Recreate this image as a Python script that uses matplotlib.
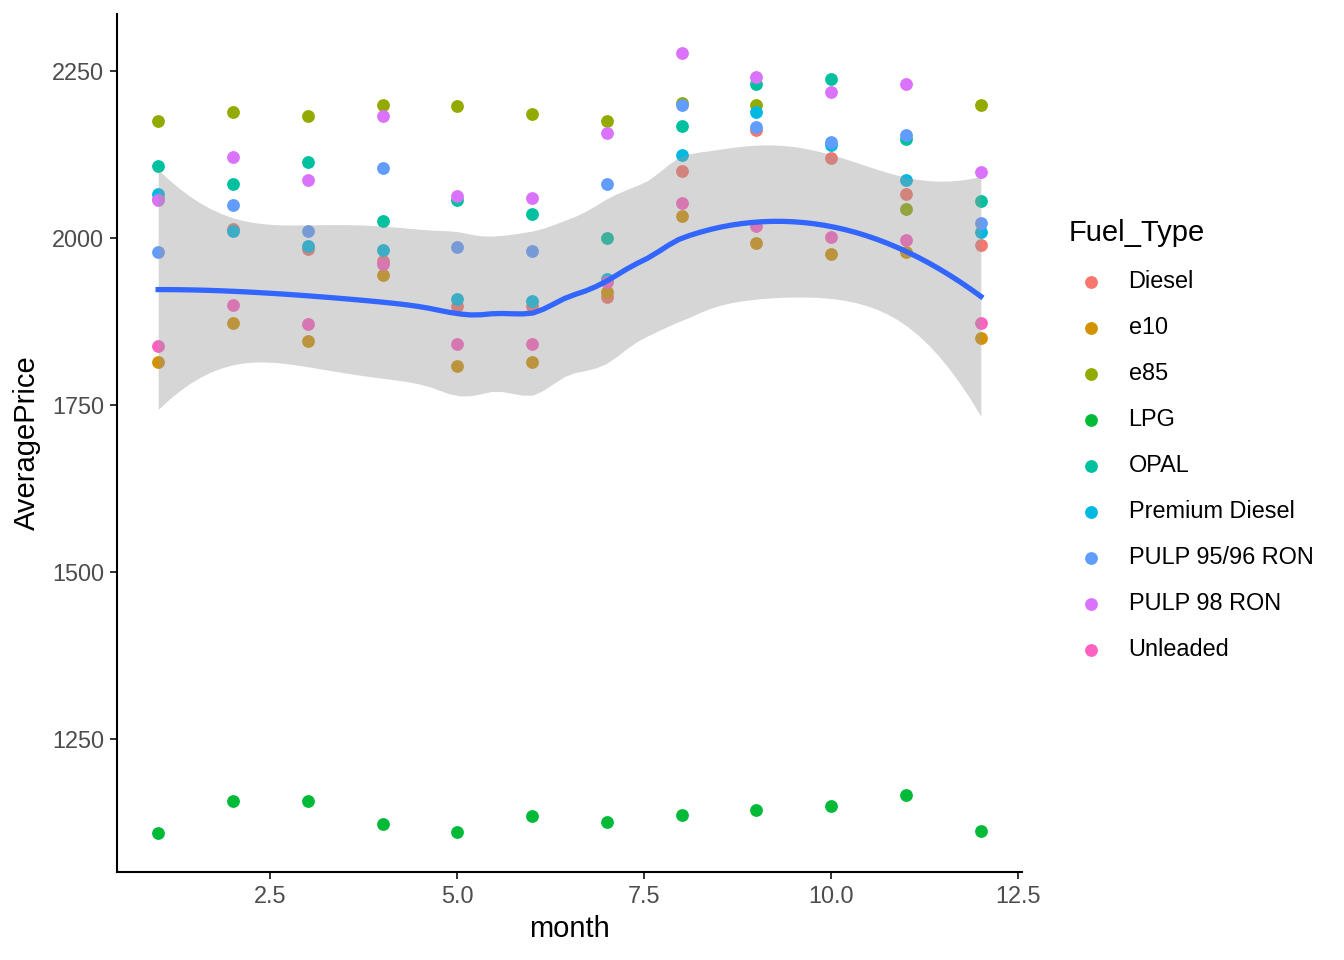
"""Average fuel price by month, with a loess smooth over all fuel types.
Saves: out.png
"""
import numpy as np
import matplotlib
matplotlib.use('Agg')
import matplotlib.pyplot as plt

plt.rcParams['font.family'] = ['Liberation Sans', 'DejaVu Sans']

months = np.arange(1, 13)
fuel_types = ['Diesel', 'e10', 'e85', 'LPG', 'OPAL', 'Premium Diesel',
              'PULP 95/96 RON', 'PULP 98 RON', 'Unleaded']
colors = ['#F8766D', '#D39200', '#93AA00', '#00BA38', '#00C19F',
          '#00B9E3', '#619CFF', '#DB72FB', '#FF61C3']

diesel     = [2058, 2013, 1984, 1965, 1898, 1898, 1911, 2100, 2161, 2119, 2066, 1990]
e10        = [1815, 1873, 1846, 1944, 1808, 1815, 1919, 2033, 1992, 1976, 1979, 1850]
e85        = [2175, 2188, 2182, 2199, 2197, 2185, 2175, 2202, 2199, np.nan, 2043, 2199]
lpg        = [1110, 1157, 1157, 1124, 1112, 1136, 1126, 1137, 1144, 1150, 1167, 1113]
opal       = [2107, 2080, 2114, 2025, 2057, 2036, 2000, 2168, 2231, 2238, 2148, 2055]
prem_dsl   = [2065, 2011, 1988, 1982, 1908, 1905, 1938, 2124, 2188, 2139, 2086, 2009]
pulp95     = [1979, 2049, 2011, 2105, 1987, 1981, 2080, 2199, 2166, 2144, 2154, 2023]
pulp98     = [2057, 2121, 2087, 2183, 2063, 2060, 2157, 2277, 2241, 2219, 2230, 2098]
unleaded   = [1839, 1900, 1872, 1961, 1842, 1842, 1934, 2052, 2018, 2001, 1997, 1873]

series = [diesel, e10, e85, lpg, opal, prem_dsl, pulp95, pulp98, unleaded]


def loess_row(x, x0, span=0.75):
    # local quadratic, tricube weights (like R's loess defaults)
    n = len(x)
    q = int(np.floor(n * span))
    d = np.abs(x - x0)
    h = np.sort(d)[q - 1]
    u = np.clip(d / h, 0, 1)
    w = (1 - u**3)**3
    X = np.column_stack([np.ones(n), x - x0, (x - x0)**2])
    XtW = X.T * w
    return np.linalg.solve(XtW @ X, XtW)[0]


def t975(df):
    z = 1.959964
    return z + (z**3 + z) / (4 * df) + (5 * z**5 + 16 * z**3 + 3 * z) / (96 * df**2)


xa = np.concatenate([months.astype(float)] * len(series))
ya = np.concatenate([np.array(s, dtype=float) for s in series])
ok = ~np.isnan(ya)
xa, ya = xa[ok], ya[ok]

L = np.array([loess_row(xa, xi) for xi in xa])
res = ya - L @ ya
M = np.eye(len(xa)) - L
A = M.T @ M
delta1 = np.trace(A)
delta2 = np.trace(A @ A)
sigma = np.sqrt(np.sum(res**2) / delta1)
tq = t975(delta1**2 / delta2)

xs = np.linspace(1, 12, 80)
rows = np.array([loess_row(xa, x0) for x0 in xs])
fit = rows @ ya
se = sigma * np.sqrt(np.sum(rows**2, axis=1))

fig = plt.figure(figsize=(13.44, 9.6), dpi=100)
ax = fig.add_axes([117 / 1344, 1 - 872 / 960, (1022 - 117) / 1344, (872 - 14) / 960])

handles = []
for name, vals, c in zip(fuel_types, series, colors):
    h = ax.scatter(months, vals, s=85, color=c, linewidths=0, zorder=2, label=name)
    handles.append(h)

ax.fill_between(xs, fit - tq * se, fit + tq * se, color='#999999', alpha=0.4,
                linewidth=0, zorder=3)
ax.plot(xs, fit, color='#3366FF', linewidth=3.8, zorder=4)

ax.set_xlim(0.45, 12.55)
ax.set_ylim(1051.5, 2335)
ax.set_xticks([2.5, 5.0, 7.5, 10.0, 12.5])
ax.set_xticklabels(['2.5', '5.0', '7.5', '10.0', '12.5'])
ax.set_yticks([1250, 1500, 1750, 2000, 2250])

for side in ['top', 'right']:
    ax.spines[side].set_visible(False)
for side in ['left', 'bottom']:
    ax.spines[side].set_linewidth(1.5)
    ax.spines[side].set_color('black')
ax.tick_params(length=5.3, width=1.4, color='#333333', labelcolor='#4D4D4D',
               labelsize=16.9, pad=4)

ax.set_xlabel('month', fontsize=21, labelpad=5)
ax.set_ylabel('AveragePrice', fontsize=21, labelpad=8)

leg = fig.legend(handles=handles, loc='upper left',
                 bbox_to_anchor=(1057 / 1344, 1 - 207 / 960),
                 title='Fuel_Type', title_fontsize=21, fontsize=16.9,
                 frameon=False, alignment='left', handlelength=1.87,
                 handletextpad=0.68, labelspacing=0.98, borderpad=0,
                 scatterpoints=1)

fig.savefig('out.png', dpi=100)
plt.close(fig)
